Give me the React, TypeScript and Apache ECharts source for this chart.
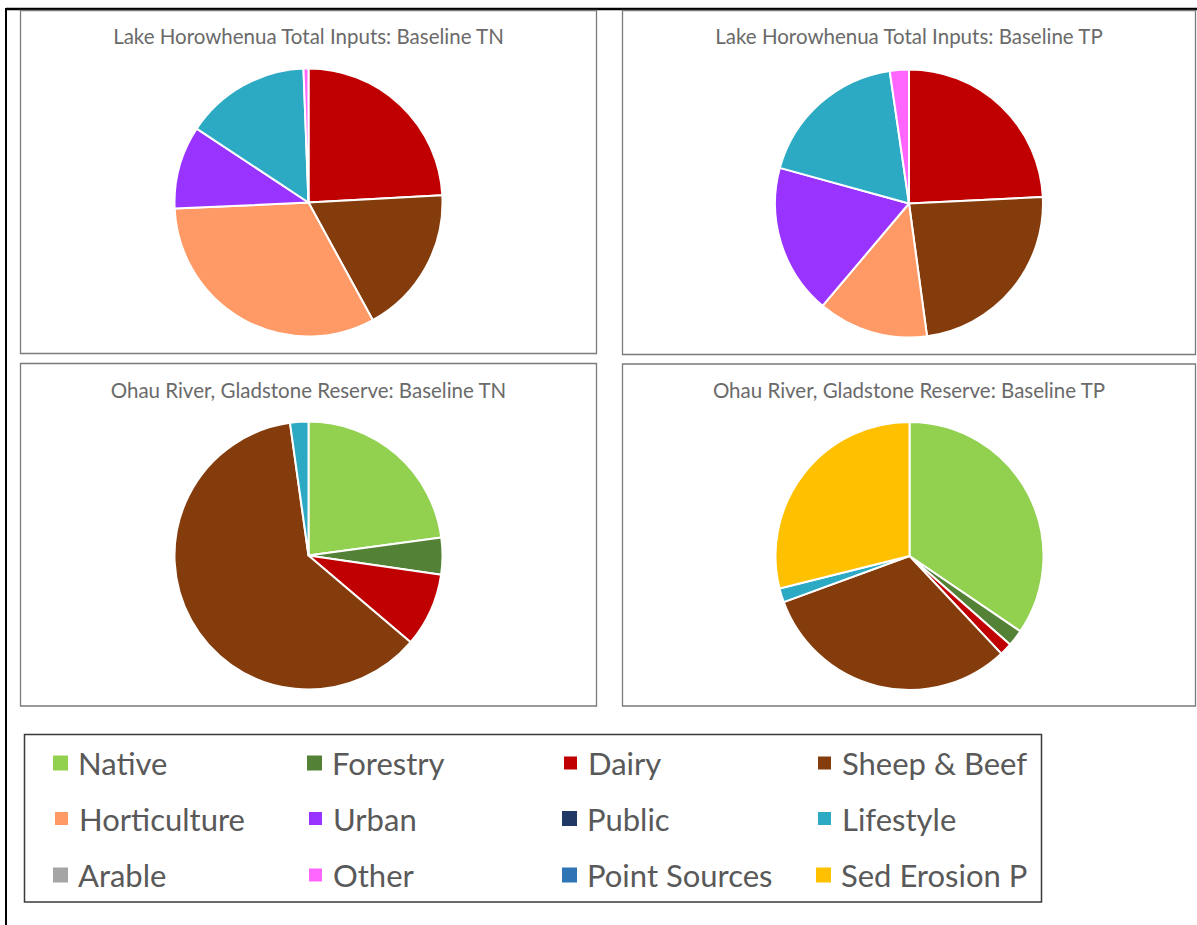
import React, { useEffect, useRef } from "react";
import * as echarts from "echarts";

// Categories (legend order) and colours
const categories = [
  "Native", "Forestry", "Dairy", "Sheep & Beef",
  "Horticulture", "Urban", "Public", "Lifestyle",
  "Arable", "Other", "Point Sources", "Sed Erosion P",
];
const categoryColors = [
  "#92D050", "#538135", "#C00000", "#843C0C",
  "#FF9966", "#9933FF", "#203864", "#2CA9C3",
  "#A5A5A5", "#FF66FF", "#2E75B6", "#FFC000",
];

// Percent shares
const lakeTN = [0, 0, 24.1, 17.9, 32.2, 10.0, 0, 15.1, 0, 0.6, 0, 0];
const lakeTP = [0, 0, 24.2, 23.6, 13.3, 18.1, 0, 18.4, 0, 2.3, 0, 0];
const ohauTN = [22.8, 4.4, 8.9, 61.4, 0, 0, 0, 2.2, 0, 0, 0, 0];
const ohauTP = [34.5, 2.0, 1.5, 31.4, 0, 0, 0, 1.7, 0, 0, 0, 28.9];

const titles = [
  "Lake Horowhenua Total Inputs: Baseline TN",
  "Lake Horowhenua Total Inputs: Baseline TP",
  "Ohau River, Gladstone Reserve: Baseline TN",
  "Ohau River, Gladstone Reserve: Baseline TP",
];

const FONT = "Lato, 'Noto Sans', sans-serif";

export default function App() {
  const ref = useRef<HTMLDivElement>(null);
  useEffect(() => {
    if (!ref.current) return;
    const chart = echarts.init(ref.current, undefined, { renderer: "svg" });

    const panels = [
      { x: 20.5, y: 10.5, w: 576, h: 343, cx: 308.5, cy: 202.5, ty: 36, values: lakeTN },
      { x: 622.5, y: 10.5, w: 573, h: 344, cx: 909, cy: 203.5, ty: 36, values: lakeTP },
      { x: 20.5, y: 363.5, w: 576, h: 342.5, cx: 308.5, cy: 555.5, ty: 390, values: ohauTN },
      { x: 622.5, y: 364, w: 573, h: 342, cx: 909.5, cy: 556, ty: 390, values: ohauTP },
    ];

    const series = panels.map((p, i) => ({
      type: "pie",
      name: titles[i],
      center: [p.cx, p.cy],
      radius: 134,
      startAngle: 90,
      clockwise: true,
      label: { show: false },
      labelLine: { show: false },
      emphasis: { disabled: true },
      silent: true,
      data: categories.map((c, k) => ({
        name: c,
        value: p.values[k],
        itemStyle: {
          color: categoryColors[k],
          borderColor: "#ffffff",
          borderWidth: p.values[k] > 0 ? 2 : 0,
        },
      })),
    }));

    const colX = [53, 307, 562, 816];
    const rowY = [763, 818.5, 875];
    const legends = categories.map((c, k) => ({
      data: [c],
      left: colX[k % 4],
      top: rowY[Math.floor(k / 4)] - 15.5,
      orient: "horizontal",
      padding: 0,
      itemWidth: 15,
      itemHeight: 15,
      icon: "rect",
      selectedMode: false,
      textStyle: {
        fontFamily: FONT,
        fontSize: 31,
        color: "#595959",
        padding: [0, 0, 0, 5],
      },
    }));

    const graphics: any[] = [
      { type: "line", shape: { x1: 6, y1: 9, x2: 1197, y2: 9 }, style: { stroke: "#000", lineWidth: 2.5 } },
      { type: "line", shape: { x1: 6, y1: 8, x2: 6, y2: 925 }, style: { stroke: "#000", lineWidth: 2 } },
      {
        type: "rect",
        shape: { x: 24.5, y: 734.5, width: 1017, height: 167.5 },
        style: { fill: "none", stroke: "#3a3a3a", lineWidth: 1.5 },
      },
    ];
    panels.forEach((p, i) => {
      graphics.push({
        type: "rect",
        shape: { x: p.x, y: p.y, width: p.w, height: p.h },
        style: { fill: "none", stroke: "#7a7a7a", lineWidth: 1.3 },
      });
      graphics.push({
        type: "text",
        x: (p.x + p.x + p.w) / 2,
        y: p.ty,
        style: {
          text: titles[i],
          fontFamily: FONT,
          fontSize: 20.5,
          fill: "#6a6a6a",
          align: "center",
          verticalAlign: "middle",
          textAlign: "center",
          textVerticalAlign: "middle",
        },
      });
    });

    chart.setOption({
      animation: false,
      backgroundColor: "#ffffff",
      legend: legends,
      series,
      graphic: graphics,
    });
    return () => chart.dispose();
  }, []);

  return (
    <div
      ref={ref}
      style={{ position: "fixed", left: 0, top: 0, width: 1197, height: 925, background: "#fff" }}
    />
  );
}
